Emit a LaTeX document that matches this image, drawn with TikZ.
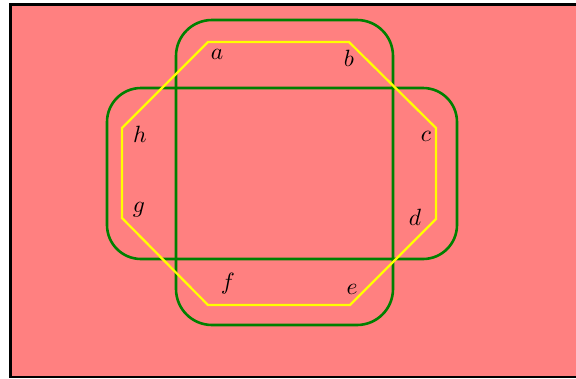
\documentclass[tikz,border=0pt]{standalone}
\usepackage{amsmath}
\usepackage{amssymb}
\usepackage{tikz}

\definecolor{fondrose}{RGB}{255,128,128}
\definecolor{vertfonce}{RGB}{0,128,0}
\definecolor{jaunevif}{RGB}{255,255,0}

\begin{document}
\begin{tikzpicture}[x=1pt, y=-1pt, every node/.style={scale=2.35}]
                \useasboundingbox (0,0) rectangle (576,378);
                \fill[black] (9,3) rectangle (578,378);
                \fill[fondrose] (12,6) rectangle (580,376);
                
                % Rectangles arrondis
                \draw[vertfonce, line width=2.6pt, rounded corners=36pt] (176,20) rectangle (393,325);
                \draw[vertfonce, line width=2.6pt, rounded corners=34pt] (107,88) rectangle (457,259);
                
                % Octogone
                \draw[jaunevif, line width=2.2pt] (208,42) -- (349,42) -- (436,128) -- (436,219) -- (350,305) -- (208,305) -- (122,218) -- (122,128) -- cycle;
                
                \foreach \nom/\x/\y in {a/217/54, b/349/58, c/426/136, d/415/217, e/352/289, f/228/284, g/139/210, h/140/134} { \node (\nom) at (\x,\y) {$\nom$}; }
            \end{tikzpicture}
\end{document}
